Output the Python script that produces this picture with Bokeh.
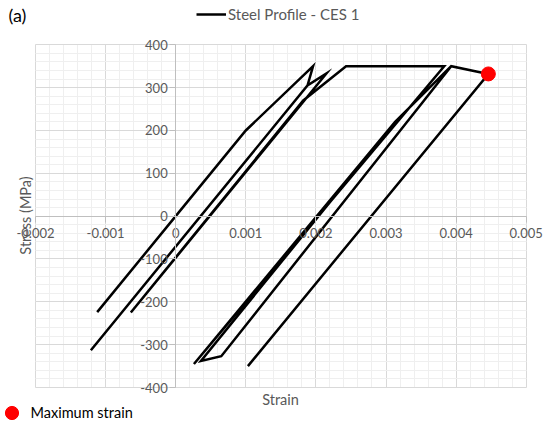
from bokeh.plotting import figure
from bokeh.models import FixedTicker, Label, Legend, LegendItem, Range1d
from bokeh.embed import file_html
from bokeh.resources import INLINE
import numpy as np

# ---- data ----
strain = [0.0, -0.00112, 0.0, 0.0010, 0.00196, 0.00188, -0.00121, 0.00188,
          0.00215, -0.00064, 0.00182, 0.00243, 0.00383, 0.00026, 0.00313,
          0.00393, 0.00065, 0.00036, 0.00313, 0.00393, 0.00446, 0.00103, 0.00446]
stress = [0, -224, 0, 200, 350, 305, -313, 305,
          333, -225, 270, 350, 350, -345, 220,
          350, -327, -338, 220, 350, 332, -350, 332]
max_strain = [0.00446]
max_stress = [332]

x_ticks = [-0.002, -0.001, 0.0, 0.001, 0.002, 0.003, 0.004, 0.005]
x_tick_labels = ["-0.002", "-0.001", "0", "0.001", "0.002", "0.003", "0.004", "0.005"]
y_ticks = [-400, -300, -200, -100, 0, 100, 200, 300, 400]
y_tick_labels = ["-400", "-300", "-200", "-100", "0", "100", "200", "300", "400"]

FONT = "Lato"
GRAY = "#595959"
W, H = 550, 426
# plot-area placement (pixels in the canvas)
L, R, T, B = 35.0, 525.7, 44.3, 387.0
x0, x1 = x_ticks[0], x_ticks[-1]
y0, y1 = y_ticks[0], y_ticks[-1]
kx = (x1 - x0) / (R - L)
ky = (y1 - y0) / (B - T)
xr = Range1d(x0 - L * kx, x1 + (W - R) * kx)
yr = Range1d(y0 - (H - B) * ky, y1 + T * ky)

p = figure(width=W, height=H, x_range=xr, y_range=yr,
           output_backend="svg", toolbar_location=None,
           min_border=0, min_border_left=0, min_border_right=0,
           min_border_top=0, min_border_bottom=0)
p.outline_line_color = None
p.background_fill_color = "white"
p.border_fill_color = "white"

x_minor = list(np.round(np.arange(x0, x1 + 1e-9, 0.0002), 6))
y_minor = list(np.arange(y0, y1 + 1, 20))
p.xaxis.ticker = FixedTicker(ticks=x_ticks, minor_ticks=x_minor)
p.yaxis.ticker = FixedTicker(ticks=y_ticks, minor_ticks=y_minor)
p.xaxis.major_label_overrides = {t: s for t, s in zip(x_ticks, x_tick_labels)}
p.yaxis.major_label_overrides = {t: s for t, s in zip(y_ticks, y_tick_labels)}
p.xaxis.bounds = (x0, x1)
p.yaxis.bounds = (y0, y1)

for ax in (p.xaxis[0], p.yaxis[0]):
    ax.fixed_location = 0
    ax.axis_line_color = "#bfbfbf"
    ax.major_tick_line_color = "#bfbfbf"
    ax.major_tick_in = 0
    ax.major_tick_out = 6
    ax.minor_tick_line_color = None
    ax.major_label_text_font = FONT
    ax.major_label_text_font_size = "13px"
    ax.major_label_text_color = GRAY
p.xaxis.major_label_standoff = 6
p.yaxis.major_label_standoff = 2

for g in (p.xgrid[0], p.ygrid[0]):
    g.grid_line_color = "#d9d9d9"
    g.minor_grid_line_color = "#efefef"
p.xgrid[0].cross_bounds = (y0, y1)
p.ygrid[0].cross_bounds = (x0, x1)

line_r = p.line(strain, stress, line_color="black", line_width=2.5, line_join="miter")
dot_r = p.scatter(max_strain, max_stress, size=14, color="#ff0000")

top_leg = Legend(items=[LegendItem(label="Steel Profile - CES 1", renderers=[line_r])],
                 location=(196, 402), orientation="horizontal",
                 background_fill_alpha=0, border_line_alpha=0, padding=0, margin=0,
                 glyph_width=30, glyph_height=20, label_standoff=2,
                 label_text_font=FONT, label_text_font_size="15px", label_text_color=GRAY)
p.add_layout(top_leg)

bot_leg = Legend(items=[LegendItem(label="Maximum strain", renderers=[dot_r])],
                 location=(-5.5, -2.5), orientation="horizontal",
                 background_fill_alpha=0, border_line_alpha=0, padding=0, margin=0,
                 glyph_width=33, glyph_height=33, label_standoff=3,
                 label_text_font=FONT, label_text_font_size="14.5px", label_text_color="black")
p.add_layout(bot_leg)

p.add_layout(Label(x=8, y=412, x_units="screen", y_units="screen", text="(a)",
                   text_baseline="middle",
                   text_font=FONT, text_font_size="18px", text_color="black"))
p.add_layout(Label(x=24.5, y=211, x_units="screen", y_units="screen", text="Stress (MPa)",
                   angle=np.pi / 2, text_align="center", text_baseline="middle",
                   text_font=FONT, text_font_size="14.5px", text_color=GRAY))
p.add_layout(Label(x=280, y=27, x_units="screen", y_units="screen", text="Strain",
                   text_align="center", text_baseline="middle",
                   text_font=FONT, text_font_size="14.5px", text_color=GRAY))

open("out.html", "w").write(file_html(p, INLINE))
